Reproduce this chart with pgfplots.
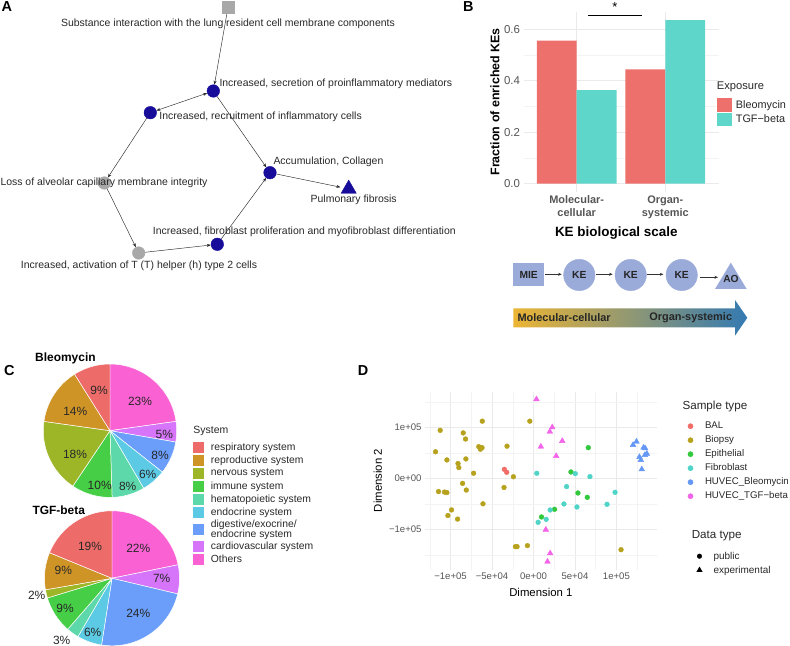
\documentclass[border=0pt]{standalone}
\usepackage{fontspec}
\setmainfont{Liberation Sans}
\usepackage{pgfplots}
\pgfplotsset{compat=1.18}
\usetikzlibrary{arrows.meta}

\definecolor{nodeblue}{RGB}{24,12,155}
\definecolor{nodegray}{RGB}{168,168,168}
\definecolor{edgecol}{RGB}{40,40,40}
\definecolor{txt}{RGB}{40,40,40}
\definecolor{ticktxt}{RGB}{85,85,85}
\definecolor{gridc}{RGB}{234,234,234}
\definecolor{barred}{RGB}{238,112,108}
\definecolor{barteal}{RGB}{94,214,202}
\definecolor{shapeblue}{RGB}{154,171,217}
\definecolor{gradL}{RGB}{236,181,52}
\definecolor{gradR}{RGB}{52,122,178}
\definecolor{cResp}{RGB}{237,108,106}
\definecolor{cRepr}{RGB}{207,148,38}
\definecolor{cNerv}{RGB}{157,182,40}
\definecolor{cImmu}{RGB}{70,206,70}
\definecolor{cHema}{RGB}{92,216,170}
\definecolor{cEndo}{RGB}{92,202,228}
\definecolor{cDige}{RGB}{106,158,250}
\definecolor{cCard}{RGB}{214,116,250}
\definecolor{cOthe}{RGB}{250,98,212}
\definecolor{dBAL}{RGB}{242,108,104}
\definecolor{dBio}{RGB}{183,162,30}
\definecolor{dEpi}{RGB}{50,200,60}
\definecolor{dFib}{RGB}{80,212,200}
\definecolor{dHB}{RGB}{100,152,244}
\definecolor{dHT}{RGB}{242,100,232}

\newcommand{\fs}[1]{\fontsize{#1}{#1}\selectfont}
% pie slice: start %, end % (of 101), colour, radius
\newcommand{\pieslice}[4]{%
  \addplot[forget plot, fill=#3, draw=white, line width=0.5pt,
    domain={90-360*#2/101}:{90-360*#1/101}, samples=40, variable=\t]
    ({#4*cos(\t)},{#4*sin(\t)}) -- (axis cs:0,0) -- cycle;}

\tikzset{
  edge/.style={edgecol, line width=0.45pt, -{Stealth[length=4bp,width=3bp]},
    shorten <=6.5bp, shorten >=6.5bp},
  lab/.style={font=\fs{10.5}, text=txt, inner sep=0pt},
  sarrow/.style={black!80, line width=0.5pt, -{Stealth[length=3.5bp,width=3bp]}},
  pl/.style={font=\fs{12}, text=txt, inner sep=0pt},
  sch/.style={font=\bfseries\fs{10.3}, text=black!85},
  letter/.style={anchor=north west, inner sep=0pt, font=\bfseries\fs{14.5}},
}

\begin{document}
\begin{tikzpicture}
\path[use as bounding box] (0,0) rectangle (790bp,646bp);

% ================= A: network =================
\begin{axis}[at={(0bp,346bp)}, anchor=south west, x=1bp, y=1bp,
  xmin=0, xmax=470, ymin=346, ymax=646, hide axis, clip=false]
\addplot[edge] coordinates {(228,638.7) (213.3,555)};
\addplot[edge, {Stealth[length=4bp,width=3bp]}-{Stealth[length=4bp,width=3bp]}] coordinates {(213.3,555) (150.3,533.3)};
\addplot[edge] coordinates {(150.3,533.3) (104.3,463)};
\addplot[edge] coordinates {(104.3,463) (138.7,393)};
\addplot[edge] coordinates {(138.7,393) (217.3,401.7)};
\addplot[edge] coordinates {(217.3,401.7) (270,473.3)};
\addplot[edge] coordinates {(213.3,555) (270,473.3)};
\addplot[edge, shorten >=8.5bp] coordinates {(270,473.3) (348.7,457.1)};
\addplot[only marks, mark=square*, mark size=6bp, nodegray] coordinates {(228,638.7)};
\addplot[only marks, mark=*, mark size=6.3bp, nodegray] coordinates {(104.3,463) (138.7,393)};
\addplot[only marks, mark=*, mark size=6.3bp, nodeblue] coordinates {(213.3,555) (150.3,533.3) (217.3,401.7) (270,473.3)};
\addplot[only marks, mark=triangle*, mark size=8.8bp, nodeblue] coordinates {(348.7,457.1)};
\end{axis}
% labels on top of the nodes
\begin{axis}[at={(0bp,346bp)}, anchor=south west, x=1bp, y=1bp,
  xmin=0, xmax=470, ymin=346, ymax=646, hide axis, clip=false]
\node[lab] at (axis cs:228,622) {Substance interaction with the lung resident cell membrane components};
\node[lab, anchor=west] at (axis cs:219.3,562) {Increased, secretion of proinflammatory mediators};
\node[lab, anchor=west] at (axis cs:159.3,529.3) {Increased, recruitment of inflammatory cells};
\node[lab] at (axis cs:104,463.3) {Loss of alveolar capillary membrane integrity};
\node[lab] at (axis cs:139,380) {Increased, activation of T (T) helper (h) type 2 cells};
\node[lab] at (axis cs:304.3,414.3) {Increased, fibroblast proliferation and myofibroblast differentiation};
\node[lab, anchor=west] at (axis cs:273.3,483.7) {Accumulation, Collagen};
\node[lab] at (axis cs:353.7,446.7) {Pulmonary fibrosis};
\end{axis}

% ================= B: bars =================
\begin{axis}[at={(523.5bp,454.1bp)}, anchor=south west, scale only axis,
  width=195bp, height=180.1bp,
  xmin=0.4, xmax=2.6, ymin=-0.0318, ymax=0.668, clip=false,
  axis line style={draw=none}, major tick length=0pt, minor tick length=0pt,
  xtick={1,2}, xticklabels={{Molecular-\\cellular},{Organ-\\systemic}},
  ytick={0,0.2,0.4,0.6}, yticklabels={0.0,0.2,0.4,0.6},
  minor ytick={0.1,0.3,0.5},
  grid=both, major grid style={gridc, line width=0.6pt},
  minor grid style={gridc!60!white, line width=0.4pt},
  xticklabel style={align=center, font=\bfseries\fontsize{11}{13.3}\selectfont, text=ticktxt},
  yticklabel style={font=\fs{11.5}, text=ticktxt},
  xlabel={KE biological scale}, ylabel={Fraction of enriched KEs},
  xlabel style={font=\bfseries\fs{13.5}, at={(rel axis cs:0.476,-0.228)}, anchor=center},
  ylabel style={font=\bfseries\fs{12.5}, at={(rel axis cs:-0.146,0.5)}, anchor=center},
  legend image code/.code={\fill[#1, draw=none] (0bp,-6.75bp) rectangle (15bp,6.75bp);},
  legend style={at={(0.9908,0.5197)}, anchor=north west, draw=none, fill=none,
    inner sep=0pt, row sep=1bp, font=\fs{10.9},
    nodes={inner sep=0pt, text=txt},
    /tikz/every odd column/.append style={column sep=4bp}},
  legend cell align=left,
]
\addplot[ybar, bar width=0.45, fill=barred, draw=none, forget plot] coordinates {(0.775,0.556) (1.775,0.444)};
\addplot[ybar, bar width=0.45, fill=barteal, draw=none, forget plot] coordinates {(1.225,0.364) (2.225,0.636)};
\addplot[black, line width=0.6pt, forget plot] coordinates {(1.131,0.653) (1.740,0.653)};
\node[font=\fs{13}, inner sep=0pt] at (axis cs:1.43,0.688) {*};
\addlegendimage{fill=barred}\addlegendentry{Bleomycin}
\addlegendimage{fill=barteal}\addlegendentry{TGF−beta}
\node[anchor=west, inner sep=0pt, font=\fs{11.2}, text=txt] at (rel axis cs:0.9908,0.5808) {Exposure};
\end{axis}

% ================= B: schematic =================
\begin{axis}[at={(500bp,300bp)}, anchor=south west, x=1bp, y=1bp,
  xmin=500, xmax=760, ymin=300, ymax=390, hide axis, clip=false]
\addplot[draw=none, left color=gradL, right color=gradR]
  coordinates {(513.3,318.7) (735,318.7) (735,310.3) (747.3,328.2) (735,346) (735,337.7) (513.3,337.7)} -- cycle;
\addplot[fill=shapeblue, draw=none] coordinates {(513.3,359.7) (544,359.7) (544,382.7) (513.3,382.7)} -- cycle;
\addplot[only marks, mark=*, mark size=15.7bp, shapeblue] coordinates {(579.3,371) (630.7,371) (681.7,371)};
\addplot[fill=shapeblue, draw=none] coordinates {(715,357) (746.7,357) (730.8,383.3)} -- cycle;
\addplot[sarrow] coordinates {(545,371.7) (561.7,371.7)};
\addplot[sarrow] coordinates {(596,371.7) (612.7,371.7)};
\addplot[sarrow] coordinates {(646.7,371.7) (663.3,371.7)};
\addplot[sarrow] coordinates {(700,368.7) (718,368.7)};
\end{axis}
\begin{axis}[at={(500bp,300bp)}, anchor=south west, x=1bp, y=1bp,
  xmin=500, xmax=760, ymin=300, ymax=390, hide axis, clip=false]
\node[sch] at (axis cs:528.7,371.2) {MIE};
\node[sch] at (axis cs:579.3,371) {KE};
\node[sch] at (axis cs:630.7,371) {KE};
\node[sch] at (axis cs:681.7,371) {KE};
\node[sch] at (axis cs:731,366.7) {AO};
\node[font=\bfseries\fs{11}, text=black!85, anchor=west, inner sep=0pt] at (axis cs:517.3,328.2) {Molecular-cellular};
\node[font=\bfseries\fs{11}, text=black!85, anchor=east, inner sep=0pt] at (axis cs:732.3,328.2) {Organ-systemic};
\end{axis}

% ================= C: pies =================
\begin{axis}[at={(30bp,135.3bp)}, anchor=south west, x=1bp, y=1bp,
  xmin=-80, xmax=80, ymin=-80, ymax=80, hide axis, clip=false,
  legend image code/.code={\fill[#1, draw=none] (0bp,-5.25bp) rectangle (11bp,5.25bp);},
  legend style={at={(1.0206,0.4306)}, anchor=north west, draw=none, fill=none,
    inner sep=0pt, row sep=2.5bp, font=\fs{10.4},
    nodes={inner sep=0pt, align=left, text=txt},
    /tikz/every odd column/.append style={column sep=6.4bp}},
  legend cell align=left,
]
\pieslice{0}{23}{cOthe}{66.7}
\pieslice{23}{28}{cCard}{66.7}
\pieslice{28}{36}{cDige}{66.7}
\pieslice{36}{42}{cEndo}{66.7}
\pieslice{42}{50}{cHema}{66.7}
\pieslice{50}{60}{cImmu}{66.7}
\pieslice{60}{78}{cNerv}{66.7}
\pieslice{78}{92}{cRepr}{66.7}
\pieslice{92}{101}{cResp}{66.7}
\node[pl] at (axis cs:30,29) {23\%};
\node[pl] at (axis cs:54.3,-3.3) {5\%};
\node[pl] at (axis cs:50,-24.3) {8\%};
\node[pl] at (axis cs:37.7,-43.7) {6\%};
\node[pl] at (axis cs:17.7,-55.3) {8\%};
\node[pl] at (axis cs:-10.3,-54.3) {10\%};
\node[pl] at (axis cs:-35,-23.3) {18\%};
\node[pl] at (axis cs:-34.7,19.7) {14\%};
\node[pl] at (axis cs:-11,40.7) {9\%};
\addlegendimage{fill=cResp}\addlegendentry{respiratory system}
\addlegendimage{fill=cRepr}\addlegendentry{reproductive system}
\addlegendimage{fill=cNerv}\addlegendentry{nervous system}
\addlegendimage{fill=cImmu}\addlegendentry{immune system}
\addlegendimage{fill=cHema}\addlegendentry{hematopoietic system}
\addlegendimage{fill=cEndo}\addlegendentry{endocrine system}
\addlegendimage{fill=cDige}\addlegendentry{digestive/exocrine/\\[-0.4bp]endocrine system}
\addlegendimage{fill=cCard}\addlegendentry{cardiovascular system}
\addlegendimage{fill=cOthe}\addlegendentry{Others}
\node[anchor=west, inner sep=0pt, font=\fs{10.5}, text=txt] at (axis cs:83.3,0) {System};
\node[anchor=west, inner sep=0pt, font=\bfseries\fs{12}] at (axis cs:-75,72.4) {Bleomycin};
\end{axis}

\begin{axis}[at={(32bp,-12.3bp)}, anchor=south west, x=1bp, y=1bp,
  xmin=-80, xmax=80, ymin=-80, ymax=80, hide axis, clip=false]
\pieslice{0}{22}{cOthe}{67.5}
\pieslice{22}{29}{cCard}{67.5}
\pieslice{29}{53}{cDige}{67.5}
\pieslice{53}{59}{cEndo}{67.5}
\pieslice{59}{62}{cHema}{67.5}
\pieslice{62}{71}{cImmu}{67.5}
\pieslice{71}{73}{cNerv}{67.5}
\pieslice{73}{82}{cRepr}{67.5}
\pieslice{82}{101}{cResp}{67.5}
\node[pl] at (axis cs:-22,32.3) {19\%};
\node[pl] at (axis cs:26.3,30) {22\%};
\node[pl] at (axis cs:49.7,0) {7\%};
\node[pl] at (axis cs:26.3,-35) {24\%};
\node[pl] at (axis cs:-19.3,-54.3) {6\%};
\node[pl] at (axis cs:-50.3,-61.7) {3\%};
\node[pl] at (axis cs:-47,-30) {9\%};
\node[pl] at (axis cs:-75.3,-16.7) {2\%};
\node[pl] at (axis cs:-48.7,7.7) {9\%};
\node[anchor=west, inner sep=0pt, font=\bfseries\fs{12}] at (axis cs:-79.7,68.3) {TGF-beta};
\end{axis}

% ================= D: MDS scatter =================
\begin{axis}[at={(425bp,76.4bp)}, anchor=south west, scale only axis,
  width=231.7bp, height=178bp,
  xmin=-130800, xmax=148600, ymin=-179000, ymax=170000, clip=false,
  axis line style={draw=none}, major tick length=0pt, minor tick length=0pt,
  scaled ticks=false,
  xtick={-100000,-50000,0,50000,100000}, xticklabels={−1e+05,−5e+04,0e+00,5e+04,1e+05},
  minor xtick={-125000,-75000,-25000,25000,75000,125000},
  ytick={-100000,0,100000}, yticklabels={−1e+05,0e+00,1e+05},
  minor ytick={-150000,-50000,50000,150000},
  grid=both, major grid style={gridc, line width=0.6pt},
  minor grid style={gridc!60!white, line width=0.4pt},
  ticklabel style={font=\fs{9.6}, text=ticktxt},
  xlabel={Dimension 1}, ylabel={Dimension 2},
  xlabel style={font=\fs{11.4}, at={(rel axis cs:0.5,-0.1298)}, anchor=center},
  ylabel style={font=\fs{11.4}, at={(rel axis cs:-0.2041,0.5)}, anchor=center},
  legend image code/.code={\path[draw=none, fill=none] (0bp,-5bp) rectangle (16bp,5bp); \draw[#1] plot coordinates {(8bp,0bp)};},
  legend style={at={(1.1105,0.8348)}, anchor=north west, draw=none, fill=none,
    inner sep=0pt, row sep=4bp, font=\fs{9.7},
    nodes={inner sep=0pt, text=txt},
    /tikz/every odd column/.append style={column sep=6.5bp}},
  legend cell align=left,
]
\addplot[forget plot, only marks, mark=*, mark size=2.4bp, dBio] coordinates {
  (-61700,112000) (-112500,94000) (-84700,89000) (-81900,77000) (-118100,52000)
  (-104400,36000) (-66000,62000) (-63000,60000) (-64000,57000) (-62000,60000)
  (-31900,63000) (-4400,112000) (-81500,38000) (-91000,29000) (-90000,21000)
  (-72200,10000) (-24200,3000) (-85500,-10000) (-35500,-18000) (-114500,-26000)
  (-107300,-27000) (-104400,-28000) (-81000,-23000) (-60900,-50000) (-98800,-62000)
  (-103200,-73000) (-91500,-80000) (-21800,-134000) (-19800,-134000) (-7300,-132000)
  (105600,-140000)};
\addplot[forget plot, only marks, mark=*, mark size=2.4bp, dBAL] coordinates {
  (-35100,17600) (-32300,11800)};
\addplot[forget plot, only marks, mark=*, mark size=2.4bp, dEpi] coordinates {
  (66100,60100) (45200,12400) (53600,-28800) (64900,-37300) (25400,-60800) (9700,-75800)};
\addplot[forget plot, only marks, mark=*, mark size=2.4bp, dFib] coordinates {
  (4000,9800) (50400,9200) (68100,3300) (39900,-16300) (98400,-27500) (88700,-51000)
  (36700,-50300) (52400,-56200) (20100,-62100) (15300,-80400) (5600,-86300)};
\addplot[forget plot, only marks, mark=triangle*, mark size=3.3bp, dHT] coordinates {
  (3600,154900) (22600,100000) (19700,91500) (34700,73200) (8900,62100) (27400,43800)
  (14900,-100700) (20100,-147100) (16900,-163400)};
\addplot[forget plot, only marks, mark=triangle*, mark size=3.3bp, dHB] coordinates {
  (124200,71900) (120100,65400) (132700,60100) (134700,58800) (136700,48300)
  (134300,45700) (127800,41800) (129400,35900) (130600,17600)};
\addlegendimage{only marks, mark=*, mark size=2.6bp, dBAL}\addlegendentry{BAL}
\addlegendimage{only marks, mark=*, mark size=2.6bp, dBio}\addlegendentry{Biopsy}
\addlegendimage{only marks, mark=*, mark size=2.6bp, dEpi}\addlegendentry{Epithelial}
\addlegendimage{only marks, mark=*, mark size=2.6bp, dFib}\addlegendentry{Fibroblast}
\addlegendimage{only marks, mark=*, mark size=2.6bp, dHB}\addlegendentry{HUVEC\_Bleomycin}
\addlegendimage{only marks, mark=*, mark size=2.6bp, dHT}\addlegendentry{HUVEC\_TGF−beta}
\node[anchor=west, inner sep=0pt, font=\fs{11.7}, text=txt] at (rel axis cs:1.1105,0.917) {Sample type};
\node[anchor=west, inner sep=0pt, font=\fs{11.7}, text=txt] at (rel axis cs:1.1504,0.1905) {Data type};
\end{axis}

\begin{axis}[at={(425bp,76.4bp)}, anchor=south west, scale only axis,
  width=231.7bp, height=178bp,
  xmin=-130800, xmax=148600, ymin=-179000, ymax=170000, hide axis,
  legend image code/.code={\path[draw=none, fill=none] (0bp,-5bp) rectangle (16bp,5bp); \draw[#1] plot coordinates {(8bp,0bp)};},
  legend style={at={(1.1493,0.1045)}, anchor=north west, draw=none, fill=none,
    inner sep=0pt, row sep=4bp, font=\fs{10},
    nodes={inner sep=0pt, text=txt},
    /tikz/every odd column/.append style={column sep=6bp}},
  legend cell align=left,
]
\addlegendimage{only marks, mark=*, mark size=2.3bp, black}\addlegendentry{public}
\addlegendimage{only marks, mark=triangle*, mark size=3.2bp, black}\addlegendentry{experimental}
\end{axis}

% panel letters
\node[letter] at (1.5bp,644.5bp) {A};
\node[letter] at (463bp,644.5bp) {B};
\node[letter] at (4bp,281bp) {C};
\node[letter] at (357.7bp,281bp) {D};
\end{tikzpicture}
\end{document}
